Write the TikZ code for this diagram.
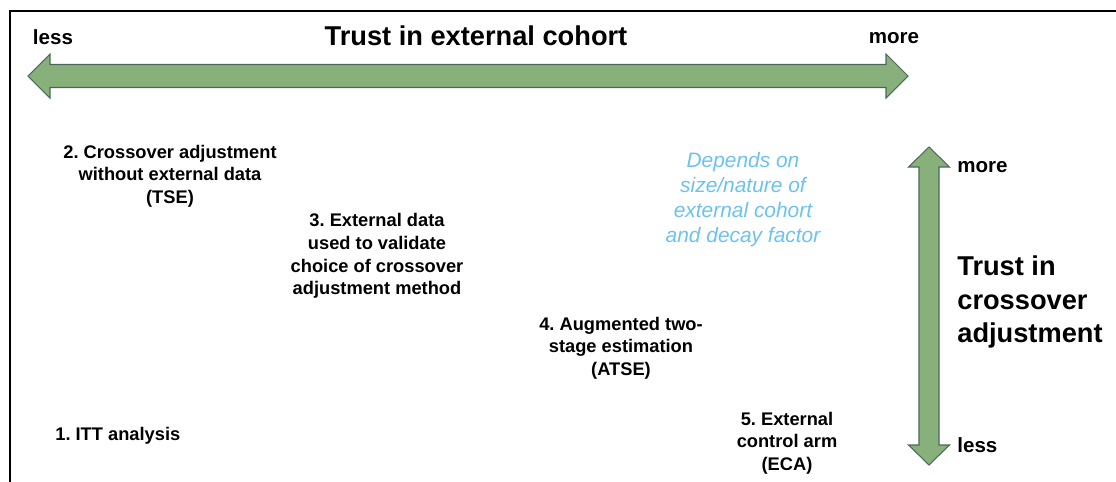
\documentclass[tikz,border=0pt]{standalone}
\usepackage{fontspec}
\setmainfont{Liberation Sans}
\usetikzlibrary{math}
\frenchspacing

\definecolor{trustgreen}{RGB}{136,176,122}
\definecolor{trustedge}{RGB}{76,104,90}
\definecolor{noteblue}{RGB}{108,194,238}

\begin{document}
\begin{tikzpicture}[x=0.02cm,y=-0.02cm,
  method/.style={font=\bfseries\fontsize{10.4}{12.9}\selectfont,align=center,inner sep=0pt},
  endlabel/.style={font=\bfseries\fontsize{11.7}{14}\selectfont,inner sep=0pt},
  axistitle/.style={font=\bfseries\fontsize{15.5}{19.3}\selectfont,inner sep=0pt},
  note/.style={font=\itshape\fontsize{11.9}{14.2}\selectfont,text=noteblue,align=center,inner sep=0pt},
  trustarrow/.style={fill=trustgreen,draw=trustedge,line width=0.6pt,line join=miter}]

  \tikzmath{
    \tipL   = 28;   % left tip of the cohort arrow
    \baseL  = 50;
    \baseR  = 886;
    \tipR   = 908;  % right tip of the cohort arrow
    \ymid   = 76;
    \hhead  = 22;   % half height of the heads
    \hshaft = 11.5; % half height of the shaft
    \xmid   = 929;
    \tipT   = 147;  % top tip of the adjustment arrow
    \baseT  = 167;
    \baseB  = 445;
    \tipB   = 465;
    \vhead  = 20.5;
    \vshaft = 10;
  }

  \useasboundingbox (0,0) rectangle (1116,481);

  % frame round the figure
  \draw[line width=1.1pt] (10,500) -- (10,11) -- (1130,11);

  % trust in external cohort (horizontal double arrow)
  \draw[trustarrow] (\tipL,\ymid) -- ({\baseL},{\ymid-\hhead}) -- ({\baseL},{\ymid-\hshaft})
    -- ({\baseR},{\ymid-\hshaft}) -- ({\baseR},{\ymid-\hhead}) -- (\tipR,\ymid)
    -- ({\baseR},{\ymid+\hhead}) -- ({\baseR},{\ymid+\hshaft}) -- ({\baseL},{\ymid+\hshaft})
    -- ({\baseL},{\ymid+\hhead}) -- cycle;
  \node[axistitle,anchor=base] (cohort) at (476,45) {Trust in external cohort};
  \node[endlabel,anchor=base] (lessh) at (53,44) {less};
  \node[endlabel,anchor=base] (moreh) at (894,43) {more};

  % trust in crossover adjustment (vertical double arrow)
  \draw[trustarrow] (\xmid,\tipT) -- ({\xmid+\vhead},{\baseT}) -- ({\xmid+\vshaft},{\baseT})
    -- ({\xmid+\vshaft},{\baseB}) -- ({\xmid+\vhead},{\baseB}) -- (\xmid,\tipB)
    -- ({\xmid-\vhead},{\baseB}) -- ({\xmid-\vshaft},{\baseB}) -- ({\xmid-\vshaft},{\baseT})
    -- ({\xmid-\vhead},{\baseT}) -- cycle;
  \node[axistitle,align=left,anchor=west] (adjust) at (957,302) {Trust in\\crossover\\adjustment};
  \node[endlabel,anchor=base west] (morev) at (957,172) {more};
  \node[endlabel,anchor=base west] (lessv) at (957,452) {less};

  % the five methods
  \node[method,anchor=base west] (itt) at (55,440) {1. ITT analysis};
  \node[method] (tse) at (170,176) {2. Crossover adjustment\\without external data\\(TSE)};
  \node[method] (valid) at (377,256) {3. External data\\used to validate\\choice of crossover\\adjustment method};
  \node[method] (atse) at (621,348) {4. Augmented two-\\stage estimation\\(ATSE)};
  \node[method] (eca) at (787,443) {5. External\\control arm\\(ECA)};
  \node[note] (decay) at (743,200) {Depends on\\size/nature of\\external cohort\\and decay factor};

\end{tikzpicture}
\end{document}
